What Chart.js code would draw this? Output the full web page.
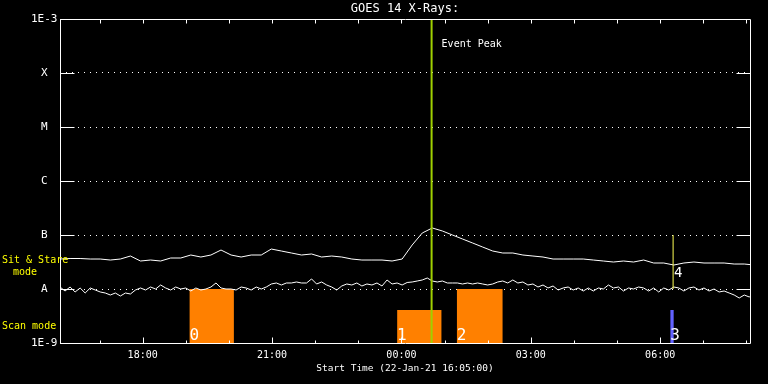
<!DOCTYPE html>
<html><head><meta charset="utf-8">
<script src="https://cdn.jsdelivr.net/npm/chart.js@4.4.0/dist/chart.umd.min.js"></script>
<style>html,body{margin:0;padding:0;background:#000;}canvas{display:block;}</style>
</head><body>
<canvas id="c" width="768" height="384"></canvas>
<script>
// ---------------- data ----------------
const plotTitle = 'GOES 14 X-Rays:';
const xAxisTitle = 'Start Time (22-Jan-21 16:05:00)';
const spanMinutes = 960;                       // 16:05 -> 08:05
const xTickMinutes = [115, 295, 475, 655, 835]; // minutes after start
const xTickLabels = ['18:00', '21:00', '00:00', '03:00', '06:00'];
const hourTickMinutes = [55, 115, 175, 235, 295, 355, 415, 475, 535, 595, 655, 715, 775, 835, 895, 955];
const yTickValues = [1e-9, 1e-8, 1e-7, 1e-6, 1e-5, 1e-4, 1e-3];
const yTickLabels = ['1E-9', 'A', 'B', 'C', 'M', 'X', '1E-3'];

// long channel, one reading every 14 min, units of 1e-7 W/m^2
const longCadenceMin = 14;
const longFluxE7 = [
  0.359, 0.367, 0.367, 0.359, 0.359, 0.344, 0.359, 0.408, 0.330, 0.344,
  0.330, 0.375, 0.375, 0.426, 0.391, 0.426, 0.527, 0.426, 0.391, 0.426,
  0.426, 0.550, 0.505, 0.464, 0.426, 0.445, 0.391, 0.408, 0.391, 0.359,
  0.344, 0.344, 0.344, 0.330, 0.359, 0.653, 1.089, 1.348, 1.186, 1.000,
  0.843, 0.711, 0.599, 0.505, 0.464, 0.464, 0.426, 0.408, 0.391, 0.359,
  0.359, 0.359, 0.359, 0.344, 0.330, 0.316, 0.330, 0.316, 0.344, 0.303,
  0.303, 0.278, 0.303, 0.316, 0.303, 0.303, 0.303, 0.290, 0.290, 0.278
];
// short channel, one reading every 7 min, units of 1e-8 W/m^2
const shortCadenceMin = 7;
const shortFluxE8 = [
  1.089, 0.918, 1.089, 0.880, 1.044, 0.843, 1.044, 0.958, 0.880, 0.843,
  0.774, 0.843, 0.742, 0.843, 0.808, 0.958, 1.044, 0.958, 1.089, 1.000,
  1.186, 1.044, 0.958, 1.089, 1.000, 1.044, 0.918, 1.044, 0.958, 1.000,
  1.089, 1.292, 1.044, 1.000, 1.000, 0.958, 1.089, 1.044, 0.958, 1.089,
  1.000, 1.089, 1.238, 1.292, 1.186, 1.292, 1.292, 1.348, 1.292, 1.292,
  1.534, 1.238, 1.348, 1.186, 1.089, 0.958, 1.137, 1.238, 1.186, 1.292,
  1.137, 1.238, 1.186, 1.292, 1.137, 1.468, 1.238, 1.292, 1.186, 1.320,
  1.348, 1.406, 1.468, 1.598, 1.406, 1.348, 1.406, 1.292, 1.292, 1.292,
  1.238, 1.292, 1.238, 1.292, 1.238, 1.186, 1.238, 1.348, 1.406, 1.292,
  1.468, 1.292, 1.348, 1.186, 1.238, 1.089, 1.186, 1.044, 1.137, 0.958,
  1.044, 1.089, 0.958, 1.044, 0.918, 1.044, 0.918, 1.044, 1.000, 1.186,
  1.044, 1.089, 0.918, 1.044, 1.000, 1.089, 1.044, 0.918, 1.044, 0.880,
  1.044, 0.958, 1.089, 1.044, 0.918, 1.044, 1.089, 0.958, 1.044, 0.918,
  1.000, 0.880, 0.918, 0.843, 0.774, 0.681, 0.774, 0.711, 0.880
];

const eventPeakMin = 517;
const eventPeakLabel = 'Event Peak';
const scanStartMin = [180, 469, 552, 849];
const scanEndMin = [242, 531, 616, 854];
const scanLevel = [1e-8, 4.1e-9, 1e-8, 4.1e-9];
const scanLabels = ['0', '1', '2', '3'];
const stareMin = 853;
const stareRange = [1e-8, 1e-7];
const stareLabel = '4';
const sideLabels = ['Sit & Stare', 'mode', 'Scan mode'];

// ---------------- styles ----------------
const MONO = "'DejaVu Sans Mono', 'Liberation Mono', monospace";
const WHITE = '#ffffff';
const ORANGE = '#ff8000';
const BLUE = '#6262ff';
const PEAK = '#9fd000';
const YELLOW = '#ffff00';
const scanColors = [ORANGE, ORANGE, ORANGE, BLUE];

const datasets = [];
scanStartMin.forEach((s, i) => {
  datasets.push({
    data: [{x: s, y: scanLevel[i]}, {x: scanEndMin[i], y: scanLevel[i]}],
    showLine: true, fill: 'start', backgroundColor: scanColors[i],
    borderWidth: 0, pointRadius: 0, order: 5
  });
});
datasets.push({
  data: longFluxE7.map((v, i) => ({x: i * longCadenceMin, y: v * 1e-7})),
  showLine: true, borderColor: WHITE, borderWidth: 1, pointRadius: 0, order: 2
});
datasets.push({
  data: shortFluxE8.map((v, i) => ({x: i * shortCadenceMin, y: v * 1e-8})),
  showLine: true, borderColor: WHITE, borderWidth: 1, pointRadius: 0, order: 2
});
datasets.push({
  data: [{x: stareMin, y: stareRange[0]}, {x: stareMin, y: stareRange[1]}],
  showLine: true, borderColor: '#ffff55', borderWidth: 1, pointRadius: 0, order: 1
});
datasets.push({
  data: [{x: eventPeakMin, y: 1e-9}, {x: eventPeakMin, y: 1e-3}],
  showLine: true, borderColor: PEAK, borderWidth: 2, pointRadius: 0, order: 0
});

const overlay = {
  id: 'overlay',
  afterDatasetsDraw(chart) {
    const {ctx, chartArea: a, scales: {x, y}} = chart;
    const L = Math.round(a.left) + 0.5, R = Math.round(a.right) + 0.5;
    const T = Math.round(a.top) + 0.5, B = Math.round(a.bottom) + 0.5;
    ctx.save();
    ctx.strokeStyle = WHITE; ctx.lineWidth = 1;
    ctx.beginPath();
    ctx.rect(L, T, R - L, B - T);
    // solid ends of the y grid lines
    yTickValues.slice(1, -1).forEach(v => {
      const py = Math.round(y.getPixelForValue(v)) + 0.5;
      ctx.moveTo(L, py); ctx.lineTo(L + 14, py);
      ctx.moveTo(R - 14, py); ctx.lineTo(R, py);
    });
    // hourly ticks
    hourTickMinutes.forEach(m => {
      const px = Math.round(x.getPixelForValue(m)) + 0.5;
      const major = xTickMinutes.includes(m);
      ctx.moveTo(px, T); ctx.lineTo(px, T + 4);
      ctx.moveTo(px, B); ctx.lineTo(px, B - (major ? 6 : 3));
    });
    ctx.stroke();

    // scan labels
    ctx.fillStyle = WHITE;
    ctx.font = '16px ' + MONO;
    ctx.textBaseline = 'alphabetic'; ctx.textAlign = 'left';
    scanStartMin.forEach((s, i) => {
      ctx.fillText(scanLabels[i], x.getPixelForValue(s), B - 4);
    });
    ctx.font = '14px ' + MONO;
    ctx.fillText(stareLabel, x.getPixelForValue(stareMin) + 1, 277);
    // event peak
    ctx.font = '10px ' + MONO;
    ctx.fillText(eventPeakLabel, x.getPixelForValue(eventPeakMin) + 10, 47);
    // side labels
    ctx.fillStyle = YELLOW;
    ctx.fillText(sideLabels[0], 2, 263);
    ctx.fillText(sideLabels[1], 13, 275);
    ctx.fillText(sideLabels[2], 2, 329);
    ctx.restore();
  }
};

new Chart(document.getElementById('c'), {
  type: 'scatter',
  data: {datasets},
  options: {
    responsive: false, animation: false, devicePixelRatio: 1,
    layout: {padding: {left: 60, right: 18, top: 0, bottom: 0}},
    plugins: {
      legend: {display: false}, tooltip: {enabled: false},
      title: {display: true, text: plotTitle, color: WHITE,
        font: {family: MONO, size: 12, weight: 'normal', lineHeight: '14px'},
        padding: {top: 2, bottom: 3}}
    },
    scales: {
      x: {
        type: 'linear', min: 0, max: spanMinutes, position: 'bottom',
        afterBuildTicks: s => { s.ticks = xTickMinutes.map(v => ({value: v})); },
        afterFit: s => { s.height = 41; },
        grid: {display: false, drawTicks: false},
        border: {display: false},
        ticks: {color: WHITE, font: {family: MONO, size: 10}, padding: 6, autoSkip: false,
          maxRotation: 0, callback: (v, i) => xTickLabels[i]},
        title: {display: true, text: xAxisTitle, color: WHITE,
          font: {family: MONO, size: 9.5}, padding: {top: 0, bottom: 10}}
      },
      y: {
        type: 'logarithmic', min: 1e-9, max: 1e-3,
        afterBuildTicks: s => { s.ticks = yTickValues.map(v => ({value: v})); },
        afterFit: s => { s.width = 0; },
        grid: {color: WHITE, lineWidth: 1, drawTicks: false},
        border: {display: false, dash: [1, 5]},
        ticks: {color: WHITE, font: {family: MONO, size: 11}, mirror: true, padding: -29,
          crossAlign: 'center', autoSkip: false, callback: (v, i) => yTickLabels[i]}
      }
    }
  },
  plugins: [overlay]
});
</script>
</body></html>
